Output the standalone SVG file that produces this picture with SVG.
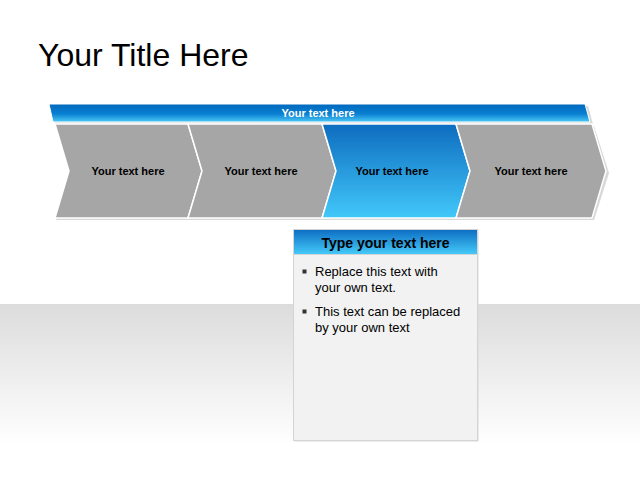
<svg xmlns="http://www.w3.org/2000/svg" width="640" height="480" viewBox="0 0 640 480">
  <defs>
    <linearGradient id="bg" x1="0" y1="0" x2="0" y2="1">
      <stop offset="0" stop-color="#dcdcdc"/>
      <stop offset="0.8" stop-color="#ffffff"/>
      <stop offset="1" stop-color="#ffffff"/>
    </linearGradient>
    <linearGradient id="bar" x1="0" y1="0" x2="0" y2="1">
      <stop offset="0" stop-color="#0068bc"/>
      <stop offset="0.55" stop-color="#0a80d2"/>
      <stop offset="1" stop-color="#4cc8f6"/>
    </linearGradient>
    <linearGradient id="blue" x1="0" y1="0" x2="0" y2="1">
      <stop offset="0" stop-color="#0d6cbf"/>
      <stop offset="1" stop-color="#42c8fa"/>
    </linearGradient>
    <linearGradient id="head" x1="0" y1="0" x2="0" y2="1">
      <stop offset="0" stop-color="#0e6fc4"/>
      <stop offset="1" stop-color="#44c9f8"/>
    </linearGradient>
    <style>
      .shadow { fill: #d8d8d8; }
      .gray { fill: #a6a6a6; stroke: #ffffff; stroke-width: 1.5; }
      .lbl { font-family: "Liberation Sans", Arial, sans-serif; font-weight: bold; font-size: 11px; text-anchor: middle; fill: #000000; }
      .body { font-family: "Liberation Sans", Arial, sans-serif; font-size: 13px; fill: #000000; }
    </style>
  </defs>
  <rect x="0" y="0" width="640" height="480" fill="#ffffff"/>
  <rect x="0" y="304" width="640" height="176" fill="url(#bg)"/>

  <text x="38" y="66" font-family="'Liberation Sans', Arial, sans-serif" font-size="32" fill="#000000">Your Title Here</text>

  <g id="topbar">
    <polygon class="shadow" points="50,106 588,106 593,124 55,124"/>
    <polygon points="49,104 585,104 590,122 53,122" fill="url(#bar)" stroke="#ffffff" stroke-width="1"/>
    <text x="318" y="117" class="lbl" style="fill:#ffffff">Your text here</text>
  </g>

  <g id="chev1">
    <polygon class="shadow" points="56,126 190,126 205,173 190,220 56,220 70,173"/>
    <polygon class="gray" points="55,124 188,124 202,171 188,218 55,218 69,171"/>
    <text x="128" y="175" class="lbl">Your text here</text>
  </g>
  <g id="chev2">
    <polygon class="shadow" points="189,126 324,126 339,173 324,220 189,220 204,173"/>
    <polygon class="gray" points="188,124 322,124 336,171 322,218 188,218 202,171"/>
    <text x="261" y="175" class="lbl">Your text here</text>
  </g>
  <g id="chev3">
    <polygon class="shadow" points="323,126 458,126 473,173 458,220 323,220 338,173"/>
    <polygon points="322,124 456,124 470,171 456,218 322,218 336,171" fill="url(#blue)" stroke="#ffffff" stroke-width="1.5"/>
    <text x="392" y="175" class="lbl">Your text here</text>
  </g>
  <g id="chev4">
    <polygon class="shadow" points="457,126 594,126 609,173 594,220 457,220 472,173"/>
    <polygon class="gray" points="456,124 592,124 606,171 592,218 456,218 470,171"/>
    <text x="531" y="175" class="lbl">Your text here</text>
  </g>

  <g id="connectors"></g>

  <g id="box">
    <rect x="294.5" y="230.5" width="184" height="211" fill="#dcdcdc"/>
    <rect x="293.5" y="229.5" width="184" height="211" fill="#f2f2f2" stroke="#d4d4d4" stroke-width="1"/>
    <rect x="294" y="230" width="183" height="24" fill="url(#head)"/>
    <line x1="294" y1="254.5" x2="477" y2="254.5" stroke="#d4d4d4" stroke-width="1"/>
    <text x="385.5" y="248" font-family="'Liberation Sans', Arial, sans-serif" font-weight="bold" font-size="14" text-anchor="middle" fill="#000000">Type your text here</text>
    <rect x="302.5" y="269.5" width="4" height="4" fill="#333333"/>
    <text x="315" y="276" class="body">Replace this text with</text>
    <text x="315" y="292" class="body">your own text.</text>
    <rect x="302.5" y="309.5" width="4" height="4" fill="#333333"/>
    <text x="315" y="316" class="body">This text can be replaced</text>
    <text x="315" y="332" class="body">by your own text</text>
  </g>
</svg>
